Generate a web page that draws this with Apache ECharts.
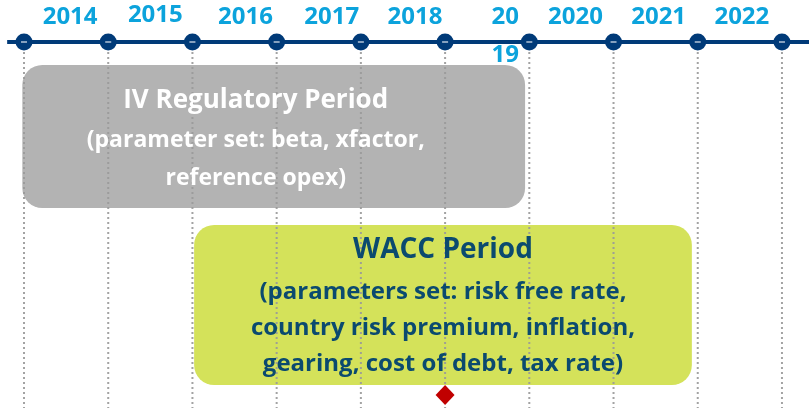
<!DOCTYPE html>
<html>
<head>
<meta charset="utf-8">
<script src="https://cdn.jsdelivr.net/npm/echarts@6/dist/echarts.min.js"></script>
<style>
html, body { margin: 0; padding: 0; background: #fff; }
#timeline { width: 809px; height: 408px; }
</style>
</head>
<body>
<div id="timeline"></div>
<script>
// year labels above the line (2019 is wrapped in the original)
var yearLabels = ['2014', '2015', '2016', '2017', '2018', '20\n19', '2020', '2021', '2022'];
var yearStart = [2014, 2015, 2016, 2017, 2018, 2019, 2020, 2021, 2022];
// round markers on the line = start of each year
var tickYears = [2014, 2015, 2016, 2017, 2018, 2019, 2020, 2021, 2022, 2023];
// the two periods
var periodTitles = ['IV Regulatory Period', 'WACC Period'];
var periodDetails = [
    '(parameter set: beta, xfactor,\nreference opex)',
    '(parameters set: risk free rate,\ncountry risk premium, inflation,\ngearing, cost of debt, tax rate)'
];
var periodStart = [2013.98, 2016.02];
var periodEnd = [2019.95, 2021.93];
// red milestone diamond
var milestone = [2019];

// layout (pixels on the inverted y axis)
var lineY = 42;
var labelY = 17;
var labelNudgeX = [4, 5, 11, 13, 12, 18, 4, 3, 2];
var labelNudgeY = [0, -1.5, 0, 0, 0, 19, 0, 0, 0];
var boxTop = [65, 225];
var boxBottom = [208, 385];
var textNudgeX = [-18, 0];
var titleY = [101, 250];
var detailY = [140, 292];
var detailLH = [38, 36];
var titleSize = [26, 28];
var detailSize = [23, 24];
var boxColor = ['#b3b3b3', '#d4e25a'];
var textColor = ['#ffffff', '#0b4a6f'];
var diamondY = 395;

var font = '"Open Sans", "Noto Sans", sans-serif';
var navy = '#003a78';

var myChart = echarts.init(document.getElementById('timeline'));

var boxData = [];
var textData = [];
for (var i = 0; i < periodTitles.length; i++) {
    boxData.push([periodStart[i], periodEnd[i], i]);
    textData.push([(periodStart[i] + periodEnd[i]) / 2, i]);
}

var labelData = [];
for (var k = 0; k < yearLabels.length; k++) {
    labelData.push({
        value: [yearStart[k] + 0.5, labelY],
        label: { offset: [labelNudgeX[k], labelNudgeY[k]], formatter: yearLabels[k] }
    });
}

var option = {
    animation: false,
    backgroundColor: '#ffffff',
    grid: { left: 0, right: 0, top: 0, bottom: 0 },
    xAxis: {
        type: 'value',
        min: 2013.715,
        max: 2023.321,
        show: false
    },
    yAxis: {
        type: 'value',
        min: 0,
        max: 408,
        inverse: true,
        show: false
    },
    series: [{
        // rounded period boxes
        type: 'custom',
        z: 1,
        data: boxData,
        renderItem: function(params, api) {
            var idx = api.value(2);
            var a = api.coord([api.value(0), boxTop[idx]]);
            var b = api.coord([api.value(1), boxBottom[idx]]);
            return {
                type: 'rect',
                shape: { x: a[0], y: a[1], width: b[0] - a[0], height: b[1] - a[1], r: 20 },
                style: { fill: boxColor[idx] }
            };
        }
    }, {
        // dotted year guides
        type: 'custom',
        z: 2,
        data: tickYears.map(function(y) { return [y]; }),
        renderItem: function(params, api) {
            var a = api.coord([api.value(0), lineY]);
            var b = api.coord([api.value(0), 408]);
            return {
                type: 'line',
                shape: { x1: a[0], y1: a[1], x2: b[0], y2: b[1] },
                style: { stroke: '#999999', lineWidth: 2, lineDash: [2, 3], opacity: 0.9 }
            };
        }
    }, {
        // main timeline
        type: 'line',
        z: 3,
        symbol: 'none',
        data: [[2013.80, lineY], [2023.321, lineY]],
        lineStyle: { color: navy, width: 4 }
    }, {
        type: 'scatter',
        z: 4,
        symbol: 'circle',
        symbolSize: 17,
        itemStyle: { color: navy, opacity: 1 },
        data: tickYears.map(function(y) { return [y, lineY]; })
    }, {
        type: 'scatter',
        z: 5,
        symbol: 'rect',
        symbolSize: [6, 1.5],
        itemStyle: { color: '#ffffff', opacity: 0.7 },
        data: tickYears.map(function(y) { return [y, lineY]; })
    }, {
        // year labels
        type: 'scatter',
        z: 5,
        symbolSize: 0,
        itemStyle: { opacity: 1 },
        data: labelData,
        label: {
            show: true,
            position: [0, 0],
            align: 'center',
            verticalAlign: 'middle',
            color: '#0ca3dc',
            fontFamily: font,
            fontWeight: 'bold',
            fontSize: 24,
            lineHeight: 38
        }
    }, {
        // period texts
        type: 'custom',
        z: 6,
        data: textData,
        renderItem: function(params, api) {
            var idx = api.value(1);
            var t = api.coord([api.value(0), titleY[idx]]);
            var d = api.coord([api.value(0), detailY[idx]]);
            return {
                type: 'group',
                children: [{
                    type: 'text',
                    style: {
                        x: t[0] + textNudgeX[idx], y: t[1], text: periodTitles[idx],
                        fill: textColor[idx], font: 'bold ' + titleSize[idx] + 'px ' + font,
                        align: 'center', verticalAlign: 'middle'
                    }
                }, {
                    type: 'text',
                    style: {
                        x: d[0] + textNudgeX[idx], y: d[1] - detailLH[idx] / 2, text: periodDetails[idx],
                        fill: textColor[idx], font: 'bold ' + detailSize[idx] + 'px ' + font,
                        lineHeight: detailLH[idx],
                        align: 'center', verticalAlign: 'top'
                    }
                }]
            };
        }
    }, {
        type: 'scatter',
        z: 6,
        symbol: 'diamond',
        symbolSize: [19, 20],
        itemStyle: { color: '#c00000', opacity: 1 },
        data: milestone.map(function(y) { return [y, diamondY]; })
    }]
};
myChart.setOption(option);
</script>
</body>
</html>
